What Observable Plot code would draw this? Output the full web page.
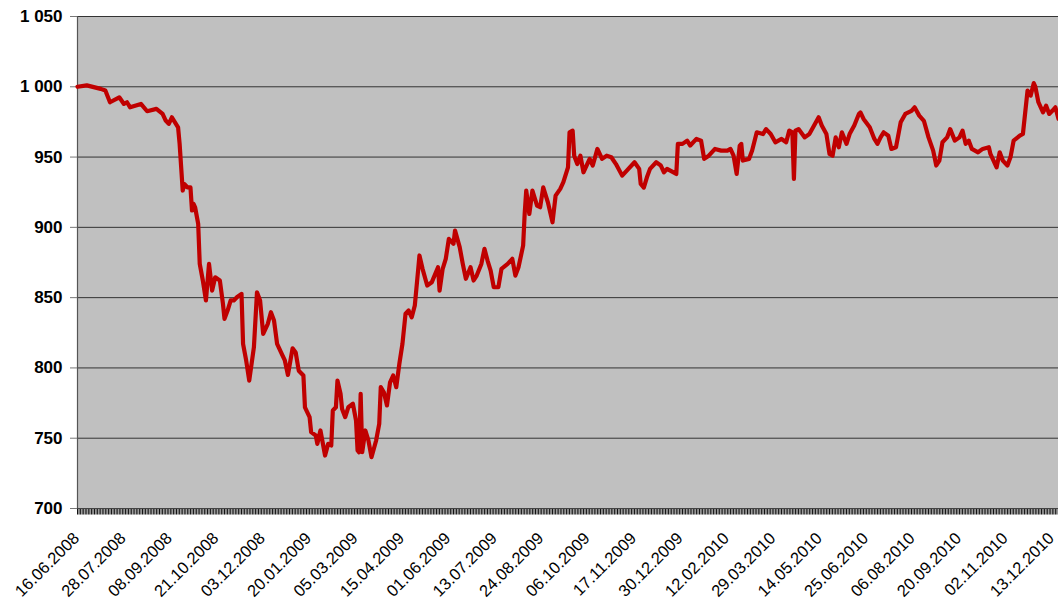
<!DOCTYPE html>
<html>
<head>
<meta charset="utf-8">
<script src="https://cdn.jsdelivr.net/npm/d3@7"></script>
<script src="https://cdn.jsdelivr.net/npm/@observablehq/plot@0.6"></script>
<style>
  html, body { margin: 0; padding: 0; background: #fff; }
  #chart { width: 1058px; height: 605px; overflow: hidden; }
</style>
</head>
<body>
<div id="chart"></div>
<script>
// Trading session number (0 = 16.06.2008) and index value
const sessions = [
  0, 6, 15, 18, 21, 27, 30, 32, 34, 41, 45, 51, 55, 57, 59, 61, 65, 66, 67, 68,
  69, 71, 73, 74, 75, 76, 78, 79, 81, 83, 85, 87, 89, 92, 94, 95, 97, 99, 101, 103,
  106, 107, 109, 111, 114, 116, 118, 120, 123, 125, 127, 129, 132, 134, 136, 139, 141, 143, 146, 147,
  150, 151, 154, 155, 157, 160, 162, 164, 165, 167, 168, 170, 171, 173, 175, 178, 180, 181, 182, 183,
  184, 186, 188, 190, 193, 195, 196, 198, 200, 202, 204, 206, 208, 210, 212, 214, 216, 218, 220, 221,
  223, 226, 229, 233, 234, 236, 238, 240, 243, 244, 247, 249, 251, 254, 256, 258, 261, 263, 265, 267,
  269, 272, 274, 278, 281, 283, 285, 288, 289, 290, 292, 294, 297, 299, 301, 304, 307, 309, 312, 314,
  317, 318, 320, 321, 323, 325, 327, 331, 333, 336, 339, 342, 345, 348, 352, 355, 360, 363, 364, 366,
  368, 370, 374, 377, 379, 381, 387, 388, 391, 394, 396, 400, 403, 405, 408, 412, 416, 420, 422, 424,
  426, 428, 429, 430, 434, 436, 439, 443, 445, 448, 451, 455, 458, 460, 462, 463, 464, 466, 470, 473,
  479, 481, 484, 486, 488, 490, 492, 494, 497, 499, 502, 505, 506, 508, 512, 515, 517, 519, 521, 524,
  526, 529, 532, 535, 539, 541, 544, 547, 550, 553, 555, 557, 559, 562, 564, 567, 570, 572, 574, 576,
  578, 582, 585, 589, 590, 592, 594, 596, 598, 601, 603, 605, 609, 611, 614, 616, 618, 619, 621, 624,
  626, 628, 630, 632, 634
];
const values = [
  1000, 1001, 998.5, 997.3, 989, 992.5, 987.8, 989, 985.4, 987.8, 982.6, 984.3, 980.7, 976, 973.6, 978.3, 971.2, 959.4, 942.7, 926.2,
  930.9, 928.5, 928.5, 912, 916.7, 914.3, 902.5, 874, 862.2, 848, 874, 855, 864.5, 862.2, 845.6, 834.9, 840.8, 848, 848, 850.3,
  852.7, 817.1, 805.3, 791, 814.7, 853.8, 848, 824.2, 831.4, 839.6, 833.7, 817.1, 810, 805.3, 795, 814, 811, 798, 794.6, 772,
  765, 754.3, 751.9, 746, 755.5, 737.7, 746, 744.8, 769.7, 772, 791, 781.6, 770.7, 765, 772, 774.5, 762.6, 741.3, 740, 781.6,
  740, 755.5, 748.4, 736.5, 748.4, 760.2, 786.3, 782.7, 773.3, 789.8, 794.6, 786.3, 802.9, 817.1, 838.5, 840.8, 836, 844.4, 868, 880,
  870.5, 858.6, 861, 871.6, 855, 870.5, 877.6, 891.8, 888.3, 897.7, 885.9, 874, 863.4, 871.6, 862.2, 865.7, 874, 884.7, 876.4, 869.3,
  857.4, 857.4, 870.5, 874, 877.6, 865.7, 871.6, 887, 909.6, 926.2, 909.6, 926.2, 915.5, 914.3, 928.5, 917.8, 903.6, 922.6, 927.4, 932.1,
  942.7, 967.6, 968.8, 951, 945, 951, 939.2, 948.7, 944, 955.8, 948.7, 951, 949.9, 945, 936.8, 940.4, 946.3, 941.6, 930.9, 928.3,
  935.6, 941.6, 946.3, 944, 939.2, 941.6, 938, 959.4, 959.4, 961.7, 958.2, 962.9, 961.7, 948.7, 951, 955.8, 954.6, 954.6, 955.8, 951,
  938, 958.2, 959.4, 947.5, 948.7, 954.6, 967.6, 966.4, 969.9, 966.4, 960.5, 962.9, 960.5, 968.8, 967.6, 934.5, 968.8, 969.9, 964, 966.4,
  978.3, 972.4, 966.4, 952.2, 951, 964, 957, 967.6, 959.4, 966.4, 972.4, 980.7, 981.8, 977.1, 971.2, 962.9, 959.4, 964, 967.6, 965.2,
  955.8, 957, 974.7, 980.7, 982.9, 985.4, 979.5, 975.8, 964, 954.6, 944, 947.5, 960.5, 964, 969.9, 961.7, 964, 968.8, 959.4, 961.7,
  955.8, 953.4, 955.8, 957, 952.2, 947.5, 942.7, 953.4, 947.5, 944, 950, 961.7, 965.2, 966.4, 997.3, 993.7, 1002.6, 1000.2, 989, 981.8,
  986.6, 980.7, 982.9, 985.4, 977.1
];
const tickLabels = [
  "16.06.2008", "28.07.2008", "08.09.2008", "21.10.2008", "03.12.2008", "20.01.2009",
  "05.03.2009", "15.04.2009", "01.06.2009", "13.07.2009", "24.08.2009", "06.10.2009",
  "17.11.2009", "30.12.2009", "12.02.2010", "29.03.2010", "14.05.2010", "25.06.2010",
  "06.08.2010", "20.09.2010", "02.11.2010", "13.12.2010"
];
const labelStep = 30;      // sessions between labelled categories
const lastSession = 634;   // last visible session
const yTicks = [700, 750, 800, 850, 900, 950, 1000, 1050];

const data = sessions.map((s, i) => ({s, v: values[i]}));
const labelData = tickLabels.map((t, i) => ({s: i * labelStep, t}));
const minorTicks = d3.range(0, lastSession + 1).map(s => ({s}));
const fmt = d3.formatLocale({thousands: "\u00a0", grouping: [3], decimal: ","}).format(",");

const chart = Plot.plot({
  width: 1058,
  height: 605,
  marginLeft: 77,
  marginRight: 0,
  marginTop: 16,
  marginBottom: 97,
  style: {fontFamily: "'Liberation Sans', Arial, sans-serif", background: "#fff", color: "#000"},
  x: {type: "linear", domain: [0, lastSession], axis: null},
  y: {domain: [700, 1050], axis: null},
  marks: [
    Plot.frame({fill: "#c0c0c0", stroke: null}),
    Plot.ruleY(yTicks, {stroke: "#333", strokeWidth: 1}),
    Plot.ruleX([0], {stroke: "#555", strokeWidth: 1.2}),
    Plot.axisY({ticks: yTicks, tickFormat: fmt, tickSize: 7, tickPadding: 8,
      fontSize: 17, fontWeight: "bold", stroke: "#777", label: null}),
    // one small tick per session below the category axis (about 6px long)
    Plot.link(minorTicks, {x1: "s", x2: "s", y1: () => 700, y2: () => 695.7, stroke: "#111", strokeWidth: 1}),
    Plot.ruleY([700], {stroke: "#444", strokeWidth: 1.2}),
    Plot.line(data, {x: "s", y: "v", stroke: "#c00000", strokeWidth: 4.2, strokeLinejoin: "round", strokeLinecap: "round"}),
    Plot.text(labelData, {x: "s", y: () => 700, text: "t", rotate: -45, textAnchor: "end",
      lineAnchor: "middle", dy: 27, dx: -1, fontSize: 16.5, fill: "#000"})
  ]
});
document.getElementById("chart").appendChild(chart);
</script>
</body>
</html>
